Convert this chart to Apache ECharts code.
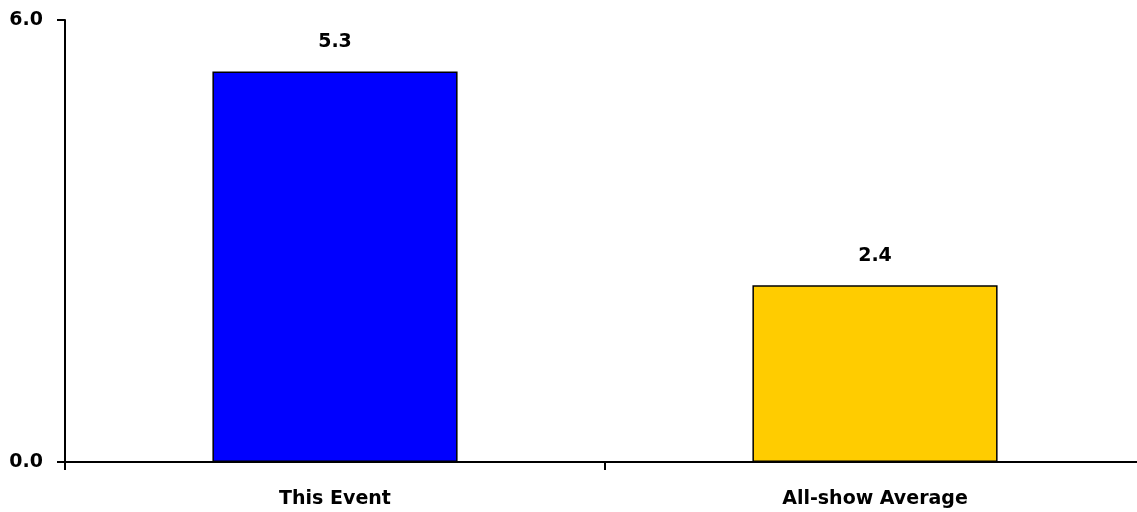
<!DOCTYPE html>
<html>
<head>
<meta charset="utf-8">
<script src="https://cdn.jsdelivr.net/npm/echarts@6/dist/echarts.min.js"></script>
<style>
  html, body { margin: 0; padding: 0; background: #fff; }
  #chart { width: 1137px; height: 512px; }
</style>
</head>
<body>
<div id="chart"></div>
<script>
// Bar categories and their values
const categories = ['This Event', 'All-show Average'];
const values = [5.3, 2.4];
const barColors = ['#0000FF', '#FFCC00'];

const chart = echarts.init(document.getElementById('chart'), null, { renderer: 'canvas' });

const font = '"DejaVu Sans", Verdana, sans-serif';

chart.setOption({
  animation: false,
  // plot area runs slightly past the right edge so the last category boundary is off-canvas
  grid: { left: 65, width: 1080, top: 20, bottom: 50, containLabel: false, outerBoundsMode: 'none' },
  xAxis: {
    type: 'category',
    data: categories,
    axisLine: { lineStyle: { color: '#000', width: 2 } },
    axisTick: { show: true, alignWithLabel: false, length: 8, lineStyle: { color: '#000', width: 2 } },
    axisLabel: { color: '#000', fontFamily: font, fontWeight: 'bold', fontSize: 19, margin: 28 }
  },
  yAxis: {
    type: 'value',
    min: 0,
    max: 6,
    interval: 6,
    splitLine: { show: false },
    axisLine: { show: true, lineStyle: { color: '#000', width: 2 } },
    axisTick: { show: true, length: 8, lineStyle: { color: '#000', width: 2 } },
    axisLabel: {
      color: '#000', fontFamily: font, fontWeight: 'bold', fontSize: 19, margin: 22,
      formatter: v => v.toFixed(1)
    }
  },
  series: [{
    type: 'bar',
    barWidth: '45.4%',
    data: values.map((v, i) => ({
      value: v,
      itemStyle: { color: barColors[i], borderColor: '#000', borderWidth: 1.5 }
    })),
    label: {
      show: true,
      position: 'top',
      distance: 20,
      color: '#000',
      fontFamily: font,
      fontWeight: 'bold',
      fontSize: 19,
      formatter: p => p.value.toFixed(1)
    }
  }]
});
</script>
</body>
</html>
